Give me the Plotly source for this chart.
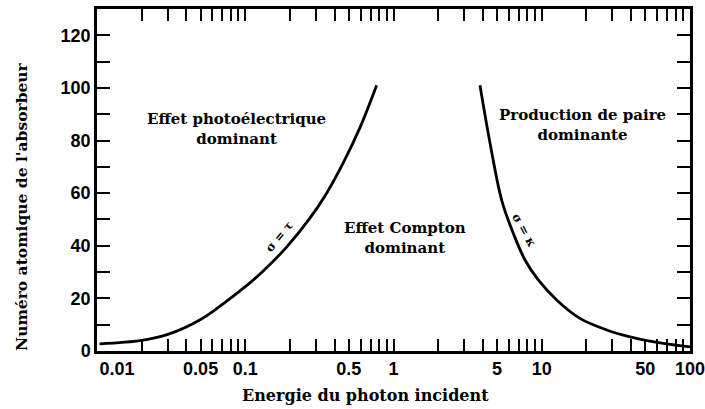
import plotly.graph_objects as go

# Photoelectric / Compton boundary (sigma = tau)
pe_energy = [0.0104, 0.02, 0.03, 0.05, 0.075, 0.108, 0.13, 0.19, 0.273, 0.354, 0.458, 0.595, 0.77]
pe_z = [2.7, 4.0, 6.3, 12.0, 19.0, 26.0, 30.0, 39.5, 50.5, 60.0, 71.5, 85.0, 101.0]

# Compton / pair production boundary (sigma = kappa)
pp_energy = [3.83, 4.48, 5.37, 6.43, 7.71, 9.48, 12.6, 18.1, 27.4, 39.4, 66.0, 100.0]
pp_z = [101.0, 79.0, 57.3, 44.7, 34.6, 27.0, 19.4, 12.4, 8.0, 5.4, 2.9, 1.6]

x_tick_vals = [0.01, 0.02, 0.03, 0.04, 0.05, 0.06, 0.07, 0.08, 0.09,
               0.1, 0.2, 0.3, 0.4, 0.5, 0.6, 0.7, 0.8, 0.9,
               1, 2, 3, 4, 5, 6, 7, 8, 9,
               10, 20, 30, 40, 50, 60, 70, 80, 90, 100]
x_labels = {0.01: "\u00a0" * 8 + "0.01", 0.05: "0.05", 0.1: "0.1", 0.5: "0.5", 1: "1",
            5: "5", 10: "10", 50: "50", 100: "100"}
x_tick_text = [x_labels.get(v, "") for v in x_tick_vals]

y_tick_vals = list(range(0, 121, 10))
y_tick_text = [str(v) if v % 20 == 0 else "" for v in y_tick_vals]

x_title = "Energie du photon incident"
y_title = "Numéro atomique de l'absorbeur"

serif = "DejaVu Serif"
sans = "Liberation Sans"

fig = go.Figure()
fig.add_trace(go.Scatter(x=pe_energy, y=pe_z, mode="lines",
                         line=dict(color="black", width=2.8, shape="spline"),
                         showlegend=False, hoverinfo="skip"))
fig.add_trace(go.Scatter(x=pp_energy, y=pp_z, mode="lines",
                         line=dict(color="black", width=2.8, shape="spline"),
                         showlegend=False, hoverinfo="skip"))

ann_font = dict(family=serif, size=15, color="black", weight="bold")
fig.add_annotation(x=-1.062, y=84.5, text="Effet photoélectrique<br>dominant",
                   showarrow=False, font=ann_font, xref="x", yref="y")
fig.add_annotation(x=0.078, y=42.9, text="Effet Compton<br>dominant",
                   showarrow=False, font=ann_font, xref="x", yref="y")
fig.add_annotation(x=1.278, y=85.8, text="Production de paire<br>dominante",
                   showarrow=False, font=ann_font, xref="x", yref="y")
fig.add_annotation(x=-0.772, y=43.3, text="σ = τ", textangle=-50,
                   showarrow=False, font=dict(family=serif, size=12, color="black", weight="bold"))
fig.add_annotation(x=0.880, y=46, text="σ = κ", textangle=61,
                   showarrow=False, font=dict(family=serif, size=12, color="black", weight="bold"))

# axis titles (offset from centre as in the original figure)
fig.add_annotation(xref="paper", yref="paper", x=-(97 - 21) / 593, y=(351 - 207) / 342,
                   xanchor="center", yanchor="middle", text=y_title,
                   textangle=-90, showarrow=False,
                   font=dict(family=serif, size=15.5, color="black", weight="bold"))
fig.add_annotation(xref="paper", yref="paper", x=(365 - 97) / 593, y=-(395 - 351) / 342,
                   xanchor="center", yanchor="middle",
                   text=x_title, showarrow=False,
                   font=dict(family=serif, size=16, color="black", weight="bold"))

fig.update_layout(
    width=705, height=409,
    margin=dict(l=97, r=15, t=9, b=58),
    paper_bgcolor="white", plot_bgcolor="white",
    showlegend=False,
)
fig.update_xaxes(
    type="log", range=[-2, 2], automargin=False,
    tickmode="array", tickvals=x_tick_vals, ticktext=x_tick_text,
    ticks="inside", ticklen=12, tickwidth=2, tickcolor="black",
    showline=True, linewidth=2.5, linecolor="black", mirror="ticks",
    showgrid=False, zeroline=False, ticklabeloverflow="allow",
    tickfont=dict(family=sans, size=18, color="black", weight="bold"),
)
fig.update_yaxes(
    range=[0, 130], automargin=False,
    tickmode="array", tickvals=y_tick_vals, ticktext=y_tick_text,
    ticks="inside", ticklen=13, tickwidth=2, tickcolor="black",
    showline=True, linewidth=2.5, linecolor="black", mirror="ticks",
    showgrid=False, zeroline=False,
    tickfont=dict(family=sans, size=18, color="black", weight="bold"),
)

fig.write_html("out.html")
